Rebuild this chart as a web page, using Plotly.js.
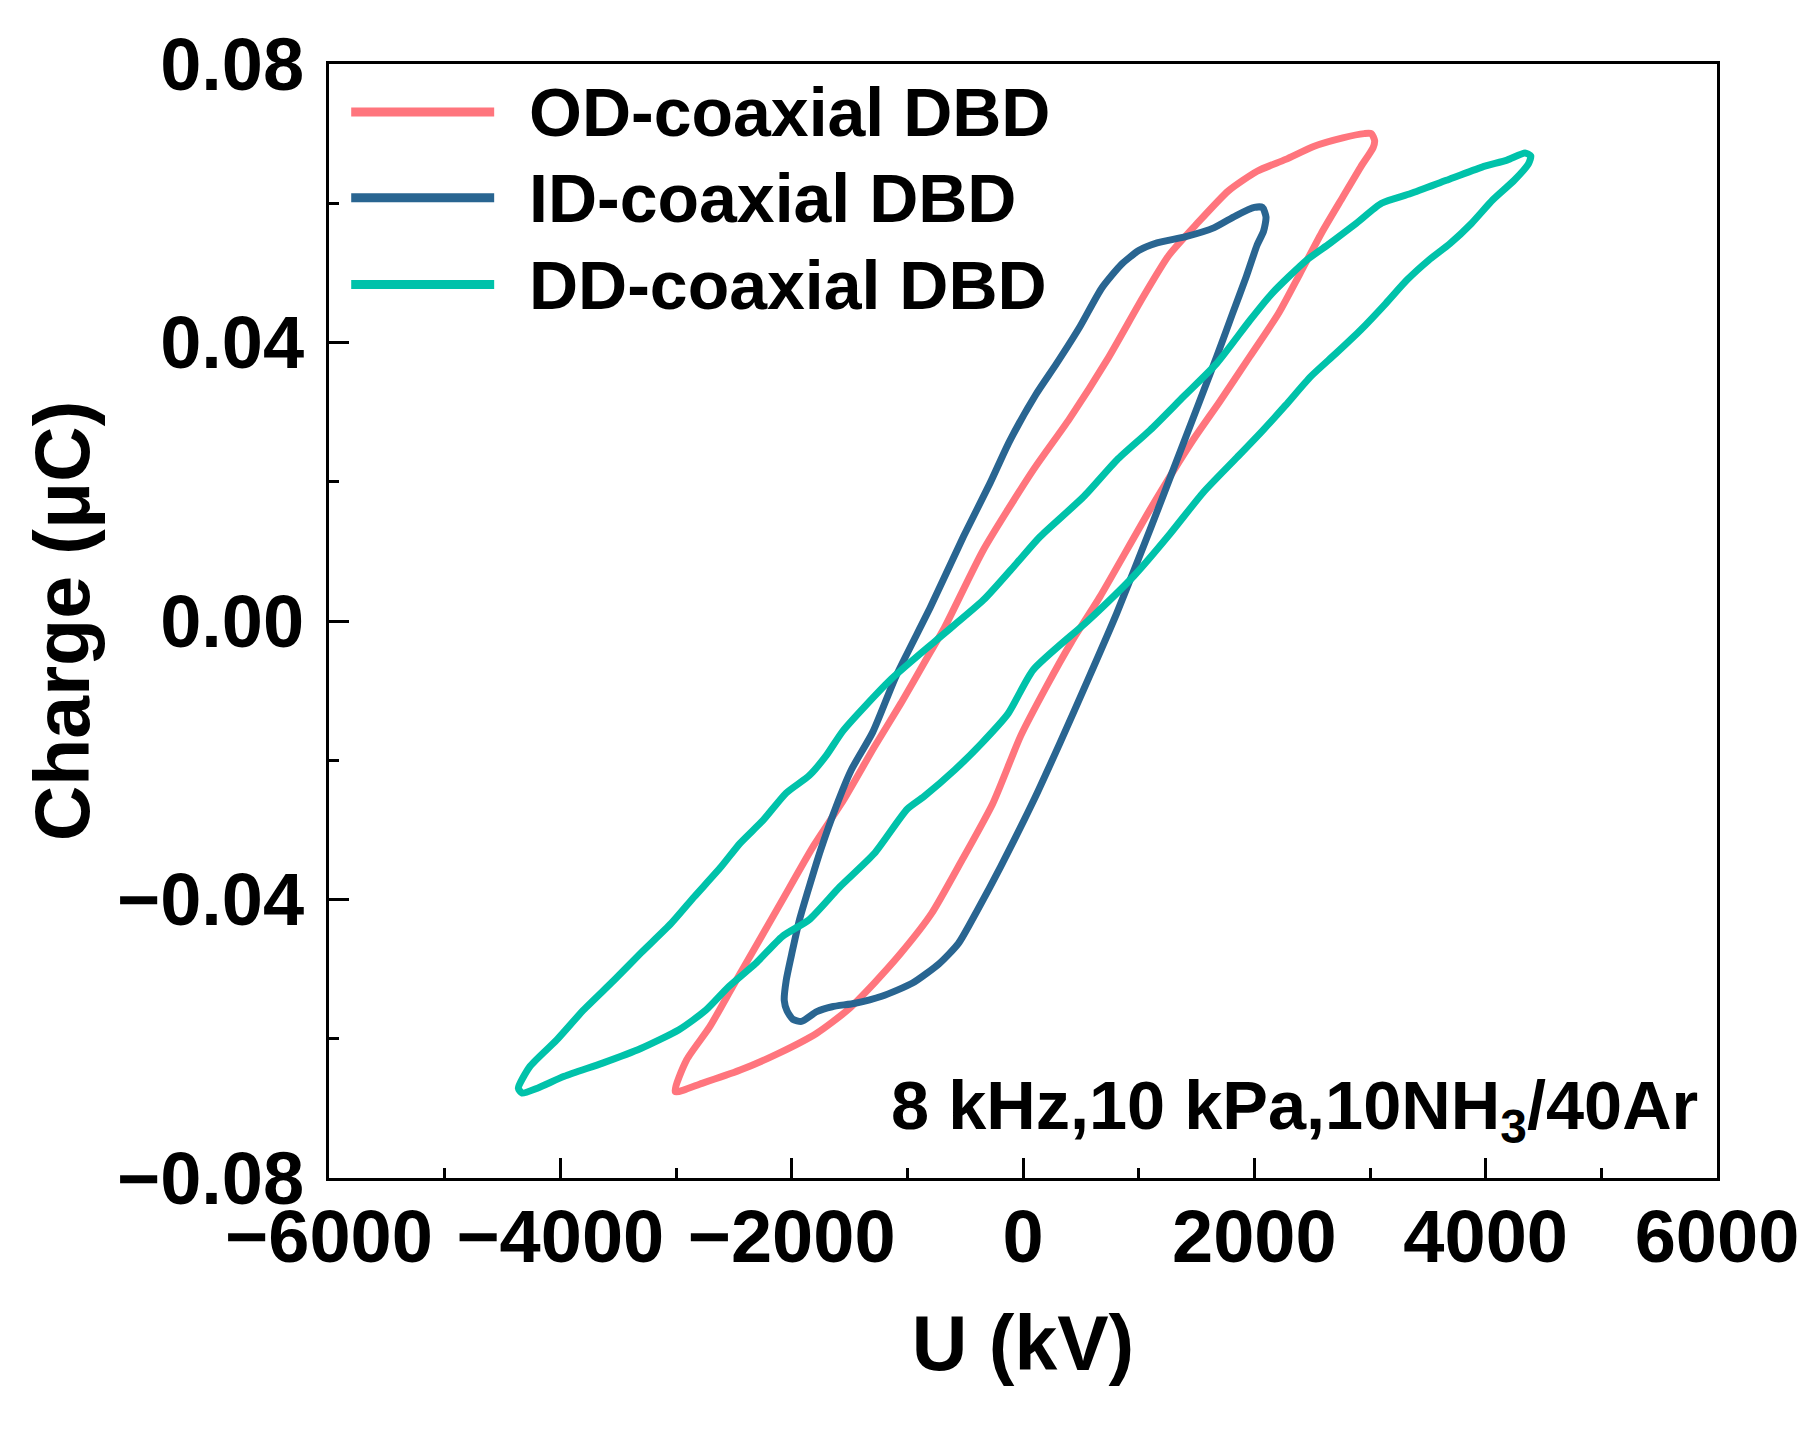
<!DOCTYPE html>
<html>
<head>
<meta charset="utf-8">
<script src="https://cdn.plot.ly/plotly-3.0.1.min.js"></script>
<style>
  html, body { margin: 0; padding: 0; background: #fff; }
  #chart { width: 1820px; height: 1431px; }
</style>
</head>
<body>
<div id="chart"></div>
<script>
// Q-U Lissajous loops (U in V, charge in uC)
const odU = [-3007, -2907, -2709, -2510, -2312, -2081, -1815, -1551, -1286, -1055, -823, -680,
  -343, 89, 400, 727, 1037, 1260, 1500, 1777, 2024, 2271, 2518, 2765, 2950, 3012,
  3040, 3027, 2919, 2765, 2580, 2395, 2210, 1962, 1700, 1470, 1098, 666, 420, 200, -20,
  -261, -526, -790, -1055, -1286, -1518, -1783, -2114, -2445, -2775, -3007];
const odQ = [-0.0676, -0.0630, -0.0583, -0.0525, -0.0468, -0.0401, -0.0324, -0.0257, -0.0181, -0.0118, -0.0051, -0.0010,
  0.0102, 0.0217, 0.0290, 0.0375, 0.0465, 0.0525, 0.0570, 0.0618, 0.0646, 0.0663, 0.0682, 0.0694, 0.0700, 0.0700,
  0.0690, 0.0680, 0.0652, 0.0609, 0.0557, 0.0499, 0.0442, 0.0380, 0.0315, 0.0260, 0.0160, 0.0035, -0.0030, -0.0095, -0.0165,
  -0.0262, -0.0343, -0.0420, -0.0477, -0.0520, -0.0559, -0.0592, -0.0621, -0.0645, -0.0664, -0.0676];

const idU = [-1915, -1990, -2040, -2064, -2047, -1998, -1932, -1849, -1750, -1617, -1485, -1300, -1100, -800,
  -516, -285, -120, 110, 291, 493, 680, 850, 1000, 1159, 1407, 1654, 1839, 2000, 2070, 2101,
  2080, 2024, 1931, 1808, 1675, 1386, 1098, 810, 560, 320, 100, -194, -393, -558, -724,
  -955, -1221, -1452, -1650, -1783, -1915];
const idQ = [-0.0575, -0.0572, -0.0560, -0.0545, -0.0516, -0.0477, -0.0429, -0.0382, -0.0329, -0.0267, -0.0214, -0.0160, -0.0080, 0.0020,
  0.0121, 0.0198, 0.0257, 0.0325, 0.0370, 0.0423, 0.0478, 0.0512, 0.0532, 0.0543, 0.0552, 0.0565, 0.0582, 0.0594, 0.0594, 0.0580,
  0.0560, 0.0540, 0.0495, 0.0440, 0.0380, 0.0255, 0.0131, 0.0011, -0.0085, -0.0175, -0.0255, -0.0353, -0.0415, -0.0463, -0.0492,
  -0.0520, -0.0539, -0.0549, -0.0554, -0.0561, -0.0575];

const ddU = [-4363, -4264, -4033, -3801, -3536, -3305, -3040, -2842, -2610, -2445, -2246, -2047, -1848, -1700, -1553,
  -1150, -746, -343, -55, 147, 521, 810, 1098, 1386, 1675, 1962, 2150, 2450, 2650, 2880, 3100, 3352, 3660, 3969, 4185, 4340, 4390,
  4371, 4247, 4062, 3877, 3691, 3506, 3321, 3136, 2919, 2703, 2487, 2271, 2080, 1850, 1560, 1270, 960, 560, 89,
  -129, -360, -591, -856, -1000, -1286, -1585, -1849, -2081, -2312, -2543, -2742, -2974, -3305, -3635, -3966, -4198, -4330, -4363];
const ddQ = [-0.0671, -0.0640, -0.0602, -0.0559, -0.0516, -0.0477, -0.0434, -0.0396, -0.0353, -0.0319, -0.0286, -0.0247, -0.0222, -0.0193, -0.0157,
  -0.0085, -0.0027, 0.0030, 0.0083, 0.0121, 0.0178, 0.0231, 0.0274, 0.0322, 0.0370, 0.0432, 0.0470, 0.0518, 0.0542, 0.0571, 0.0600, 0.0614, 0.0633, 0.0652, 0.0662, 0.0672, 0.0668,
  0.0657, 0.0633, 0.0605, 0.0571, 0.0542, 0.0518, 0.0490, 0.0456, 0.0418, 0.0384, 0.0351, 0.0310, 0.0275, 0.0235, 0.0185, 0.0125, 0.0065, 0.0000, -0.0070,
  -0.0133, -0.0176, -0.0214, -0.0252, -0.0270, -0.0334, -0.0382, -0.0429, -0.0453, -0.0492, -0.0525, -0.0559, -0.0587, -0.0614, -0.0635, -0.0654, -0.0671, -0.0678, -0.0671];

const seriesNames = ['OD-coaxial DBD', 'ID-coaxial DBD', 'DD-coaxial DBD'];
const seriesColors = ['#FF757D', '#296591', '#00C2AA'];
const conditionLabel = '8 kHz,10 kPa,10NH<sub>3</sub>/40Ar';

const boldFont = 'Liberation Sans, Arial, sans-serif';

const traces = [[odU, odQ], [idU, idQ], [ddU, ddQ]].map(function (d, i) {
    return {
        x: d[0], y: d[1],
        type: 'scatter', mode: 'lines',
        name: seriesNames[i],
        line: { color: seriesColors[i], width: 7, shape: 'spline', smoothing: 0.6 },
        showlegend: false
    };
});

// hand-made legend so the sample lines can be long
const legendShapes = [];
const legendTexts = [];
const rowY = [0.957, 0.880, 0.802];
seriesNames.forEach(function (name, i) {
    legendShapes.push({
        type: 'line', xref: 'paper', yref: 'paper',
        x0: 0.016, x1: 0.119, y0: rowY[i], y1: rowY[i],
        line: { color: seriesColors[i], width: 9 }
    });
    legendTexts.push({
        xref: 'paper', yref: 'paper', x: 0.1427, y: rowY[i],
        xanchor: 'left', yanchor: 'middle', showarrow: false,
        text: name,
        font: { family: boldFont, weight: 'bold', size: 68, color: '#000' }
    });
});

legendTexts.push({
    xref: 'paper', yref: 'paper', x: 0.988, y: 0.021,
    xanchor: 'right', yanchor: 'bottom', showarrow: false,
    text: conditionLabel,
    font: { family: boldFont, weight: 'bold', size: 68.5, color: '#000' }
});

const axisCommon = {
    showline: true, linecolor: '#000', linewidth: 3, mirror: true,
    showgrid: false, zeroline: false,
    ticks: 'inside', ticklen: 20, tickwidth: 3, tickcolor: '#000',
    tickfont: { family: boldFont, weight: 'bold', size: 74, color: '#000' }
};

const layout = {
    width: 1820, height: 1431,
    margin: { l: 329, r: 103, t: 64, b: 253 },
    paper_bgcolor: '#fff', plot_bgcolor: '#fff',
    xaxis: Object.assign({}, axisCommon, {
        range: [-6000, 6000], dtick: 2000, tick0: 0,
        ticklabelstandoff: -8,
        minor: { ticks: 'inside', ticklen: 10, tickwidth: 3, tickcolor: '#000', dtick: 1000 },
        title: { text: 'U (kV)', standoff: 40,
                 font: { family: boldFont, weight: 'bold', size: 77, color: '#000' } }
    }),
    yaxis: Object.assign({}, axisCommon, {
        range: [-0.08, 0.08], dtick: 0.04, tick0: 0, tickformat: '.2f',
        ticklabelstandoff: 7,
        minor: { ticks: 'inside', ticklen: 10, tickwidth: 3, tickcolor: '#000', dtick: 0.02 },
        title: { text: 'Charge (μC)', standoff: 3,
                 font: { family: boldFont, weight: 'bold', size: 77, color: '#000' } }
    }),
    shapes: legendShapes,
    annotations: legendTexts,
    showlegend: false
};

Plotly.newPlot('chart', traces, layout, { displayModeBar: false, staticPlot: true });
</script>
</body>
</html>
